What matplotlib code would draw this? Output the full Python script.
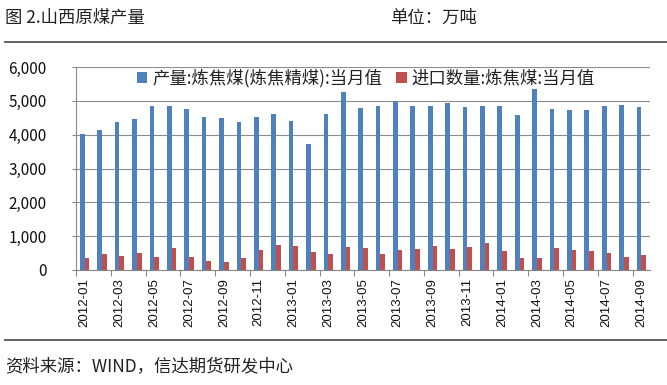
import numpy as np
import matplotlib.pyplot as plt
from matplotlib.ticker import FuncFormatter

plt.rcParams['font.family'] = ['Noto Sans CJK SC', 'DejaVu Sans']

# months 2012-01 .. 2014-09
months = ["2012-%02d" % m for m in range(1, 13)] + \
         ["2013-%02d" % m for m in range(1, 13)] + \
         ["2014-%02d" % m for m in range(1, 10)]

# 产量:炼焦煤(炼焦精煤):当月值
output = [4020, 4150, 4380, 4460, 4850, 4850, 4770, 4510, 4480, 4380, 4510, 4600,
          4400, 3730, 4600, 5260, 4790, 4860, 4990, 4860, 4860, 4950, 4820, 4860,
          4860, 4590, 5350, 4750, 4730, 4730, 4860, 4880, 4820]
# 进口数量:炼焦煤:当月值
imports = [350, 460, 410, 510, 390, 650, 390, 260, 240, 350, 590, 750,
           710, 540, 460, 690, 640, 460, 580, 620, 710, 610, 670, 800,
           560, 340, 360, 640, 580, 560, 490, 380, 440]

label_a = "产量:炼焦煤(炼焦精煤):当月值"
label_b = "进口数量:炼焦煤:当月值"

W, H = 667, 385
fig = plt.figure(figsize=(W / 100, H / 100), dpi=100)

# header / footer
fig.text(5 / W, 1 - 18 / H, "图 2.山西原煤产量", fontsize=12.5, color="#222222",
         va="center", ha="left")
fig.text(390 / W, 1 - 18 / H, "单位：万吨", fontsize=12.5, color="#222222",
         va="center", ha="left")
fig.add_artist(plt.Line2D([5 / W, 1], [1 - 42 / H] * 2, color="#555555", lw=1.3))
fig.add_artist(plt.Line2D([5 / W, 1], [1 - 340 / H] * 2, color="#555555", lw=1.3))
fig.text(5 / W, 1 - 366 / H, "资料来源：WIND，信达期货研发中心", fontsize=12.5,
         color="#222222", va="center", ha="left")

ax = fig.add_axes([76 / W, 1 - 270 / H, (650 - 76) / W, (270 - 67) / H])

x = np.arange(len(months))
w = 0.27
ax.bar(x - w / 2, output, width=w, color="#4F81BD", label=label_a, zorder=3)
ax.bar(x + w / 2, imports, width=w, color="#C0504D", label=label_b, zorder=3)

ax.set_xlim(-0.5, len(months) - 0.5)
ax.set_ylim(0, 6000)
ax.set_yticks(range(0, 6001, 1000))
ax.yaxis.set_major_formatter(FuncFormatter(lambda v, p: "{:,}".format(int(v))))
ax.tick_params(axis="y", labelsize=11, length=3, pad=18, color="#888888",
               labelcolor="#111111")
ax.yaxis.grid(True, color="#8c8c8c", lw=0.8, zorder=0)

ax.set_xticks(np.arange(-0.5, len(months), 2))
ax.set_xticklabels([])
ax.set_xticks(x[::2], minor=True)
ax.set_xticklabels(months[::2], minor=True, rotation=90, fontsize=9.5,
                   family="Liberation Sans", color="#111111")
ax.tick_params(axis="x", which="major", length=4, color="#888888")
ax.tick_params(axis="x", which="minor", length=0, pad=6)

for s in ["top", "right"]:
    ax.spines[s].set_visible(False)
for s in ["left", "bottom"]:
    ax.spines[s].set_color("#888888")
    ax.spines[s].set_linewidth(0.8)

leg = ax.legend(loc="center", bbox_to_anchor=(0.505, 0.946), ncol=2, frameon=False,
                fontsize=12.5, handlelength=0.6, handleheight=0.6, handletextpad=0.3,
                columnspacing=0.8, borderpad=0)
for t in leg.get_texts():
    t.set_color("#222222")

fig.savefig("out.png", dpi=100)
